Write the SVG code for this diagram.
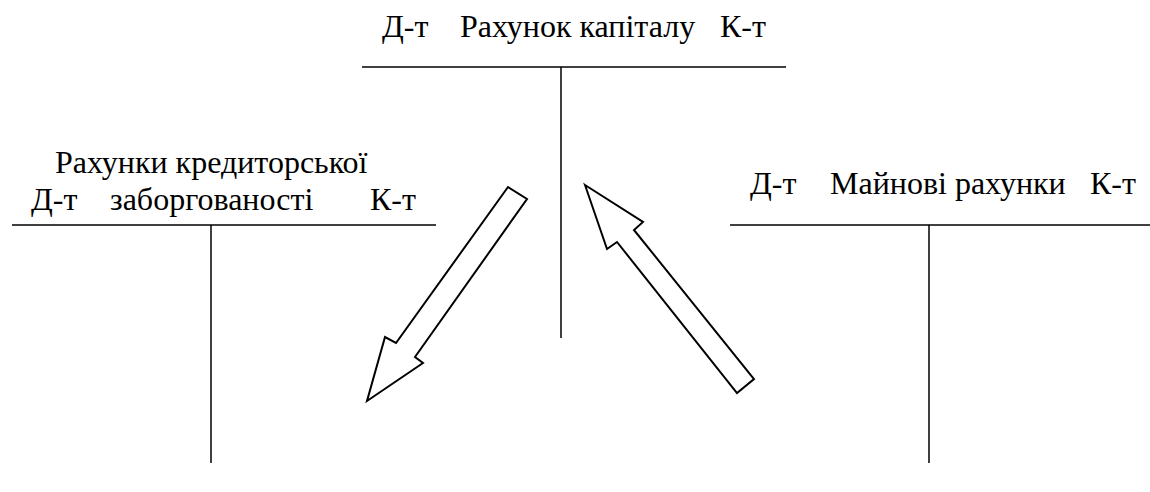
<svg xmlns="http://www.w3.org/2000/svg" width="1150" height="492" viewBox="0 0 1150 492">
<rect width="1150" height="492" fill="#fff"/>
<g id="capital">
<text x="382" y="37" font-family="Liberation Serif" font-size="32">Д-т</text>
<text x="460" y="37" font-family="Liberation Serif" font-size="32">Рахунок капіталу</text>
<text x="720" y="37" font-family="Liberation Serif" font-size="32">К-т</text>
<line x1="362" y1="67" x2="786" y2="67" stroke="#000" stroke-width="1.5"/>
<line x1="561" y1="67" x2="561" y2="338" stroke="#000" stroke-width="1.5"/>
</g>
<g id="creditors">
<text x="55" y="173" font-family="Liberation Serif" font-size="32">Рахунки кредиторської</text>
<text x="31" y="210" font-family="Liberation Serif" font-size="32">Д-т</text>
<text x="110" y="210" font-family="Liberation Serif" font-size="32">заборгованості</text>
<text x="370" y="210" font-family="Liberation Serif" font-size="32">К-т</text>
<line x1="12" y1="225" x2="436" y2="225" stroke="#000" stroke-width="1.5"/>
<line x1="211" y1="225" x2="211" y2="463" stroke="#000" stroke-width="1.5"/>
</g>
<g id="assets">
<text x="750" y="194" font-family="Liberation Serif" font-size="32">Д-т</text>
<text x="830" y="194" font-family="Liberation Serif" font-size="32">Майнові рахунки</text>
<text x="1090" y="194" font-family="Liberation Serif" font-size="32">К-т</text>
<line x1="730" y1="225" x2="1150" y2="225" stroke="#000" stroke-width="1.5"/>
<line x1="929" y1="225" x2="929" y2="463" stroke="#000" stroke-width="1.5"/>
</g>
<g id="connectors" stroke="#000" stroke-width="2" fill="#fff">
<polygon points="508,187 527,199 415,357 423,363 367,401 385,337 396,343"/>
<polygon points="585,185 643,222 634,230 754,379 737,393 617,242 607,249"/>
</g>
</svg>
